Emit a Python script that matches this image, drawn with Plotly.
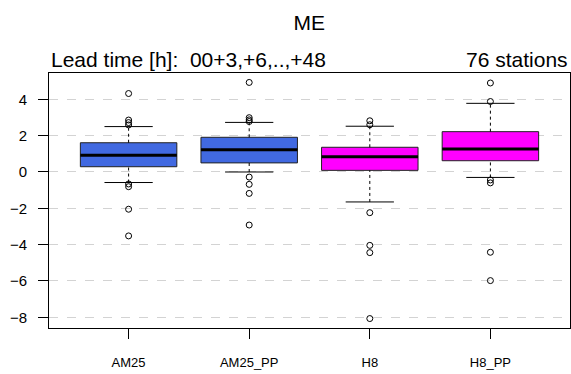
import plotly.graph_objects as go

categories = ["AM25", "AM25_PP", "H8", "H8_PP"]
q1 = [0.29, 0.50, 0.09, 0.62]
median = [0.92, 1.23, 0.84, 1.27]
q3 = [1.61, 1.91, 1.36, 2.22]
lower_whisker = [-0.58, 0.00, -1.65, -0.30]
upper_whisker = [2.50, 2.73, 2.52, 3.78]
outliers = [
    [4.32, 2.86, 2.72, 2.59, -0.66, -0.81, -2.05, -3.52],
    [4.93, 2.99, 2.87, 2.78, -0.28, -0.68, -1.18, -2.92],
    [2.82, 2.60, -2.24, -4.04, -4.44, -8.07],
    [4.90, 3.88, -0.44, -0.60, -4.42, -5.98],
]
colors = ["#4169E1", "#4169E1", "#FF00FF", "#FF00FF"]
yticks = [-8, -6, -4, -2, 0, 2, 4]

box_w = 0.8
cap_w = 0.4

fig = go.Figure()
for i, name in enumerate(categories):
    x = i + 1
    # whiskers (dashed)
    fig.add_trace(go.Scatter(
        x=[x, x, None, x, x],
        y=[lower_whisker[i], q1[i], None, q3[i], upper_whisker[i]],
        mode="lines", line=dict(color="black", width=1, dash="3px,3px"),
        showlegend=False, hoverinfo="skip"))
    # caps
    fig.add_trace(go.Scatter(
        x=[x - cap_w / 2, x + cap_w / 2, None, x - cap_w / 2, x + cap_w / 2],
        y=[lower_whisker[i], lower_whisker[i], None, upper_whisker[i], upper_whisker[i]],
        mode="lines", line=dict(color="black", width=1),
        showlegend=False, hoverinfo="skip"))
    # box
    fig.add_trace(go.Box(
        x=[x], q1=[q1[i]], median=[median[i]], q3=[q3[i]],
        lowerfence=[q1[i]], upperfence=[q3[i]],
        width=box_w, fillcolor=colors[i],
        line=dict(color="#222222", width=1),
        whiskerwidth=0, boxpoints=False, showlegend=False, hoverinfo="skip"))
    # median
    fig.add_trace(go.Scatter(
        x=[x - box_w / 2, x + box_w / 2], y=[median[i], median[i]],
        mode="lines", line=dict(color="black", width=3),
        showlegend=False, hoverinfo="skip"))
    # outliers
    fig.add_trace(go.Scatter(
        x=[x] * len(outliers[i]), y=outliers[i], mode="markers",
        marker=dict(symbol="circle-open", size=6, color="black", line=dict(width=1)),
        showlegend=False, hoverinfo="skip"))

font_family = "Liberation Sans, Arial, sans-serif"
fig.update_layout(
    width=571, height=374,
    margin=dict(l=49, r=1, t=73, b=46, autoexpand=False),
    paper_bgcolor="white", plot_bgcolor="white",
    font=dict(family=font_family, color="black"),
    title=dict(text="ME", x=0.5415, xanchor="center", y=1 - 23 / 374, yanchor="middle",
               font=dict(size=21, family=font_family, color="black")),
    xaxis=dict(range=[0.34, 4.66], tickvals=[1, 2, 3, 4], ticktext=categories,
               ticks="outside", ticklen=10, tickcolor="black", tickwidth=1,
               showline=True, mirror=True, linecolor="black", linewidth=1,
               showgrid=False, zeroline=False, tickfont=dict(size=13),
               ticklabelstandoff=12, automargin=False),
    yaxis=dict(range=[-8.59, 5.45], tickvals=yticks,
               ticktext=[("\u2212" + str(-v)) if v < 0 else str(v) for v in yticks],
               ticks="outside", ticklen=10, tickcolor="black", tickwidth=1,
               showline=True, mirror=True, linecolor="black", linewidth=1,
               showgrid=True, gridcolor="#d3d3d3", griddash="dash", gridwidth=1,
               zeroline=False, tickfont=dict(size=15), ticklabelposition="outside",
               ticklabelstandoff=8, automargin=False),
    annotations=[
        dict(text="Lead time [h]:  00+3,+6,..,+48", xref="paper", yref="paper",
             x=0, y=1, xanchor="left", yanchor="bottom", showarrow=False,
             font=dict(size=21, family=font_family, color="black")),
        dict(text="76 stations", xref="paper", yref="paper",
             x=1, y=1, xanchor="right", yanchor="bottom", showarrow=False,
             font=dict(size=21, family=font_family, color="black")),
    ],
)
fig.write_html("out.html", config={"displayModeBar": False},
               post_script="document.body.style.margin='0';document.body.style.overflow='hidden';")
